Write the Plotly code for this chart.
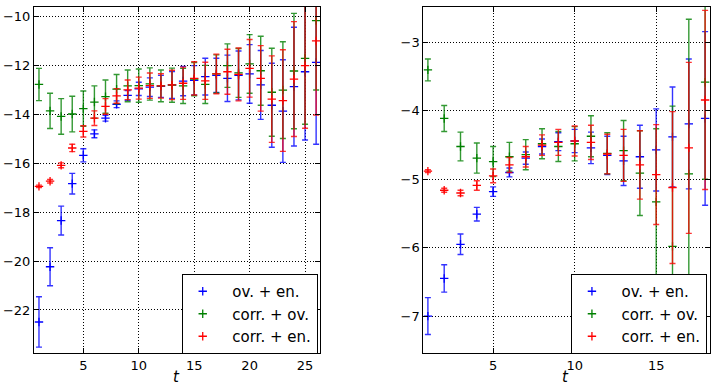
import plotly.graph_objects as go

# Euclidean time slices
t_left = list(range(1, 27))
t_right = list(range(1, 19))

# Left panel: central values and errors
blue_left = [-22.49, -20.23, -18.34, -16.83, -15.67, -14.79, -14.15, -13.58, -13.22, -12.95,
             -12.88, -12.85, -12.79, -12.63, -12.60, -12.45, -12.40, -12.52, -12.40, -12.34,
             -12.79, -13.62, -13.86, -12.86, -12.25, -11.87]
blue_left_err = [1.03, 0.78, 0.59, 0.42, 0.27, 0.16, 0.12, 0.14, 0.20, 0.27,
                 0.38, 0.45, 0.55, 0.60, 0.60, 0.75, 0.70, 0.95, 1.00, 1.20,
                 1.41, 1.72, 2.10, 2.43, 2.79, 3.35]
green_left = [-12.77, -13.85, -14.08, -13.98, -13.76, -13.49, -13.27, -12.96, -12.83, -12.82,
              -12.75, -12.83, -12.80, -12.83, -12.55, -12.77, -12.34, -12.00, -12.30, -11.93,
              -12.21, -13.09, -13.00, -12.22, -11.70, -10.16]
green_left_err = [0.66, 0.72, 0.73, 0.73, 0.72, 0.66, 0.68, 0.60, 0.65, 0.68,
                  0.66, 0.65, 0.70, 0.72, 0.68, 0.78, 0.78, 0.89, 1.00, 1.20,
                  1.41, 1.80, 1.98, 2.36, 2.70, 2.84]
red_left = [-16.94, -16.73, -16.08, -15.37, -14.69, -14.15, -13.67, -13.24, -12.99, -12.92,
            -12.82, -12.83, -12.79, -12.72, -12.52, -12.62, -12.34, -12.25, -12.36, -12.11,
            -12.52, -13.37, -13.43, -12.55, -12.00, -10.99]
red_left_err = [0.05, 0.07, 0.10, 0.15, 0.23, 0.30, 0.32, 0.30, 0.40, 0.45,
                0.52, 0.50, 0.60, 0.66, 0.68, 0.76, 0.81, 0.92, 1.08, 1.18,
                1.34, 1.77, 2.08, 2.35, 2.56, 3.03]

# Right panel: central values and errors
blue_right = [-7.00, -6.45, -5.95, -5.51, -5.18, -4.90, -4.69, -4.52, -4.45, -4.44,
              -4.54, -4.65, -4.73, -4.67, -4.57, -4.38, -4.19, -4.11]
blue_right_err = [0.27, 0.20, 0.15, 0.10, 0.07, 0.065, 0.09, 0.11, 0.13, 0.17,
                  0.23, 0.28, 0.36, 0.46, 0.60, 0.73, 0.95, 1.27]
green_right = [-3.40, -4.11, -4.52, -4.69, -4.74, -4.67, -4.64, -4.48, -4.52, -4.48,
               -4.37, -4.62, -4.58, -4.91, -5.33, -5.98, -4.92, -3.58]
green_right_err = [0.16, 0.19, 0.21, 0.22, 0.22, 0.21, 0.22, 0.22, 0.22, 0.25,
                   0.30, 0.30, 0.44, 0.62, 1.07, 2.05, 2.26, 1.42]
red_right = [-4.88, -5.16, -5.20, -5.09, -4.95, -4.79, -4.67, -4.50, -4.46, -4.44,
             -4.46, -4.63, -4.65, -4.79, -4.93, -5.12, -4.54, -3.84]
red_right_err = [0.02, 0.03, 0.04, 0.07, 0.10, 0.11, 0.15, 0.15, 0.19, 0.22,
                 0.25, 0.29, 0.38, 0.50, 0.73, 1.11, 1.25, 1.31]

labels = ["ov. + en.", "corr. + ov.", "corr. + en."]
colors = ["#0000ff", "#008000", "#ff0000"]
bar_colors = ["rgba(0,0,255,0.8)", "rgba(0,128,0,0.8)", "rgba(255,0,0,0.8)"]

FONT = "DejaVu Sans"
PAD = "\u00a0\u00a0"  # extra gap between legend symbol and label
fig = go.Figure()

panels = [
    (t_left, [(blue_left, blue_left_err), (green_left, green_left_err), (red_left, red_left_err)],
     "x", "y", "legend"),
    (t_right, [(blue_right, blue_right_err), (green_right, green_right_err), (red_right, red_right_err)],
     "x2", "y2", "legend2"),
]

for t, series, xa, ya, leg in panels:
    for (vals, errs), name, c, bc in zip(series, labels, colors, bar_colors):
        fig.add_trace(go.Scatter(
            x=t, y=vals, mode="markers", name=PAD + name,
            xaxis=xa, yaxis=ya, legend=leg,
            marker=dict(symbol="cross-thin", size=6, color=c,
                        line=dict(color=c, width=1.3)),
            error_y=dict(type="data", array=errs, visible=True,
                         color=bc, thickness=1.4, width=3),
        ))

axis_common = dict(
    showline=True, linecolor="black", linewidth=1, mirror="ticks",
    ticks="inside", ticklen=5, tickcolor="black", tickwidth=1,
    showgrid=True, gridcolor="black", gridwidth=1, griddash="1px,2px",
    zeroline=False, tickfont=dict(family=FONT, size=13, color="black"),
)

legend_common = dict(
    xanchor="left", yanchor="top", bgcolor="white",
    bordercolor="black", borderwidth=1,
    font=dict(family=FONT, size=15, color="black"),
)

fig.update_layout(
    width=711, height=384,
    margin=dict(l=0, r=0, t=0, b=0),
    paper_bgcolor="white", plot_bgcolor="white",
    font=dict(family=FONT, color="black"),
    xaxis=dict(domain=[0.0478, 0.4501], range=[0.55, 26.35],
               tickvals=[5, 10, 15, 20, 25], anchor="y", **axis_common),
    yaxis=dict(domain=[0.0807, 0.9818], range=[-23.76, -9.6],
               tickvals=[-22, -20, -18, -16, -14, -12, -10], anchor="x", **axis_common),
    xaxis2=dict(domain=[0.5954, 0.9986], range=[0.72, 18.3],
                tickvals=[5, 10, 15], anchor="y2", **axis_common),
    yaxis2=dict(domain=[0.0807, 0.9818], range=[-7.54, -2.48],
                tickvals=[-7, -6, -5, -4, -3], anchor="x2", **axis_common),
    legend=dict(x=0.2556, y=110 / 384, **legend_common),
    legend2=dict(x=0.803, y=110 / 384, **legend_common),
    annotations=[
        dict(text="<i>t</i>", x=176 / 711, y=-4 / 384, xref="paper", yref="paper",
             showarrow=False, xanchor="center", yanchor="bottom",
             font=dict(family=FONT, size=15, color="black")),
        dict(text="<i>t</i>", x=565 / 711, y=-4 / 384, xref="paper", yref="paper",
             showarrow=False, xanchor="center", yanchor="bottom",
             font=dict(family=FONT, size=15, color="black")),
    ],
)

fig.write_html("out.html")
